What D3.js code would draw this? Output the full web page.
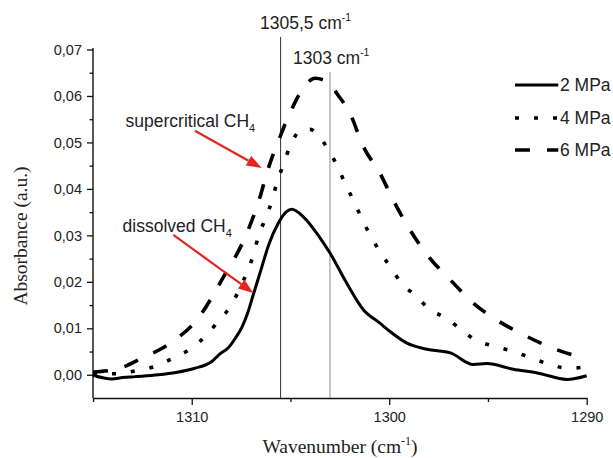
<!DOCTYPE html>
<html>
<head>
<meta charset="utf-8">
<script src="https://cdn.jsdelivr.net/npm/d3@7"></script>
<style>
  body { margin: 0; background: #fff; }
  svg { display: block; }
</style>
</head>
<body>
<svg id="chart" width="613" height="458"></svg>
<script>
// IR absorbance of CH4 around the 1300 cm-1 band at three pressures
const seriesNames = ["2 MPa", "4 MPa", "6 MPa"];

const wn2MPa  = [1315, 1314.05, 1313.5, 1312.87, 1311.7, 1310.8, 1309.84, 1309.0, 1308.57, 1308.15, 1307.8, 1307.45, 1307.15, 1306.9, 1306.5, 1306.1, 1305.62, 1305.2, 1304.94, 1304.35, 1303.54, 1303.0, 1302.15, 1301.31, 1300.47, 1299.96, 1299.1, 1298.1, 1296.9, 1295.74, 1295.06, 1293.72, 1292.5, 1291.0, 1290.0];
const abs2MPa = [-0.0001, -0.0009, -0.0006, -0.0004, 0.0000, 0.0005, 0.0014, 0.0028, 0.0045, 0.0058, 0.0078, 0.0103, 0.0135, 0.0170, 0.0225, 0.0280, 0.0326, 0.0351, 0.0356, 0.0340, 0.0297, 0.0262, 0.0197, 0.0140, 0.0111, 0.0093, 0.0068, 0.0055, 0.0047, 0.0022, 0.0024, 0.0012, 0.0004, -0.0010, -0.0002];

const wn4MPa  = [1315, 1313.7, 1312.8, 1311.86, 1310.93, 1310.09, 1309.24, 1308.66, 1308.06, 1307.64, 1307.22, 1306.88, 1306.63, 1306.3, 1305.95, 1305.7, 1305.36, 1305.03, 1304.43, 1304.0, 1303.59, 1303.09, 1302.66, 1302.24, 1301.82, 1301.4, 1300.97, 1300.47, 1299.96, 1299.37, 1298.6, 1297.94, 1297.1, 1296.25, 1295.57, 1294.65, 1293.72, 1292.79, 1291.86, 1290.9, 1290.0];
const abs4MPa = [0.0004, 0.0002, 0.0009, 0.0018, 0.0036, 0.0055, 0.0086, 0.0115, 0.0146, 0.0179, 0.0219, 0.0258, 0.0297, 0.0333, 0.0373, 0.0412, 0.0452, 0.0491, 0.0527, 0.0528, 0.0516, 0.0484, 0.0452, 0.0412, 0.0376, 0.0337, 0.0301, 0.0265, 0.0233, 0.0197, 0.0168, 0.0140, 0.0122, 0.0093, 0.0074, 0.0061, 0.0050, 0.0036, 0.0022, 0.0014, 0.0017];

const wn6MPa  = [1315, 1313.8, 1312.37, 1311.5, 1310.85, 1309.67, 1308.48, 1307.14, 1306.54, 1306.2, 1305.53, 1305.03, 1304.35, 1303.76, 1303.0, 1302.66, 1301.99, 1301.31, 1300.47, 1299.8, 1298.95, 1298.0, 1296.9, 1295.74, 1294.56, 1293.2, 1291.7, 1290.0];
const abs6MPa = [0.0006, 0.0012, 0.0039, 0.0057, 0.0075, 0.0122, 0.0204, 0.0312, 0.0383, 0.0434, 0.0512, 0.0563, 0.0617, 0.0638, 0.0627, 0.0606, 0.0563, 0.0491, 0.0434, 0.0376, 0.0312, 0.0254, 0.0204, 0.0154, 0.0118, 0.0086, 0.0057, 0.0034];

// Peak positions marked with vertical lines
const peakPositions = [1305.5, 1303];
const peakTexts = ["1305,5 cm", "1303 cm"];

// Axis ticks
const xMajorTicks = [1310, 1300, 1290];
const xMinorTicks = [1315, 1305, 1295];
const yMajorTicks = [0, 0.01, 0.02, 0.03, 0.04, 0.05, 0.06, 0.07];
const yMinorTicks = [0.005, 0.015, 0.025, 0.035, 0.045, 0.055, 0.065];

// Callouts: label text and arrow from/to (wavenumber, absorbance)
const calloutTexts = ["supercritical CH", "dissolved CH"];
const calloutTextAt = [[1313.35, 0.0533], [1313.5, 0.0308]];
const arrowFrom = [[1309.84, 0.0525], [1310.93, 0.0301]];
const arrowTo   = [[1306.46, 0.0445], [1306.88, 0.0176]];

const svg = d3.select("#chart");
const sansFont = "'Liberation Sans', Arial, Helvetica, sans-serif";
const serifFont = "'Liberation Serif', 'Times New Roman', serif";

const x = d3.scaleLinear().domain([1315, 1290]).range([93, 586.7]);
const y = d3.scaleLinear().domain([-0.005, 0.07]).range([398, 49.5]);

const commaFmt = v => d3.format(".2f")(v).replace(".", ",");

// ---- axes ----
const yAxis = svg.append("g").attr("transform", `translate(${x.range()[0]},0)`)
  .call(d3.axisLeft(y).tickValues(yMajorTicks).tickFormat(commaFmt)
        .tickSize(6).tickSizeOuter(0).tickPadding(5));
svg.append("g").attr("transform", `translate(${x.range()[0]},0)`)
  .call(d3.axisLeft(y).tickValues(yMinorTicks).tickFormat("").tickSize(3.5).tickSizeOuter(0))
  .select(".domain").remove();

svg.append("g").attr("transform", `translate(0,${y.range()[0]})`)
  .call(d3.axisBottom(x).tickValues(xMajorTicks).tickFormat(d3.format("d"))
        .tickSize(7).tickSizeOuter(0).tickPadding(7));
svg.append("g").attr("transform", `translate(0,${y.range()[0]})`)
  .call(d3.axisBottom(x).tickValues(xMinorTicks).tickFormat("").tickSize(4).tickSizeOuter(0))
  .select(".domain").remove();

svg.selectAll(".domain").attr("stroke", "#111").attr("stroke-width", 1.4);
svg.selectAll(".tick line").attr("stroke", "#111").attr("stroke-width", 1.3);
svg.selectAll(".tick text").attr("font-family", sansFont).attr("font-size", 14.5).attr("fill", "#222");

// extend y axis line to the top of the scale
yAxis.select(".domain").attr("d", `M0,${y.range()[0]}V${y(0.0703)}`);

// ---- axis titles ----
svg.append("text")
  .attr("transform", `translate(27,236) rotate(-90)`)
  .attr("text-anchor", "middle")
  .attr("font-family", serifFont).attr("font-size", 19.5).attr("fill", "#222")
  .text("Absorbance (a.u.)");

const xTitle = svg.append("text")
  .attr("x", 340).attr("y", 453)
  .attr("text-anchor", "middle")
  .attr("font-family", serifFont).attr("font-size", 19.5).attr("fill", "#222");
xTitle.append("tspan").text("Wavenumber (cm");
xTitle.append("tspan").attr("font-size", 12).attr("dy", -8).text("-1");
xTitle.append("tspan").attr("dy", 8).text(")");

// ---- peak marker lines ----
const peakLineColors = ["#333", "#888"];
const peakLineTops = [37, 72];
svg.selectAll("line.peak").data(peakPositions).join("line")
  .attr("class", "peak")
  .attr("x1", d => x(d)).attr("x2", d => x(d))
  .attr("y1", (d, i) => peakLineTops[i]).attr("y2", y.range()[0])
  .attr("stroke", (d, i) => peakLineColors[i]).attr("stroke-width", 1);

const peakTextPos = [[260, 29], [293, 64]];
peakTexts.forEach((t, i) => {
  const tx = svg.append("text")
    .attr("x", peakTextPos[i][0]).attr("y", peakTextPos[i][1])
    .attr("font-family", sansFont).attr("font-size", 17.5).attr("fill", "#222");
  tx.append("tspan").text(t);
  tx.append("tspan").attr("font-size", 10.5).attr("dy", -8).text("-1");
});

// ---- spectra ----
const seriesData = [
  d3.zip(wn2MPa, abs2MPa),
  d3.zip(wn4MPa, abs4MPa),
  d3.zip(wn6MPa, abs6MPa)
];
const dashes = [null, "4,15", "15,17"];
const widths = [3, 3.6, 3.6];

const line = d3.line()
  .x(d => x(d[0])).y(d => y(d[1]))
  .curve(d3.curveMonotoneX);

svg.selectAll("path.spectrum").data(seriesData).join("path")
  .attr("class", "spectrum")
  .attr("d", line)
  .attr("fill", "none")
  .attr("stroke", "#000")
  .attr("stroke-width", (d, i) => widths[i])
  .attr("stroke-dasharray", (d, i) => dashes[i])
  .attr("stroke-linejoin", "round");

// ---- legend ----
const legendY = [85, 118, 150];
const legend = svg.append("g");
seriesNames.forEach((name, i) => {
  legend.append("line")
    .attr("x1", 515).attr("x2", 558.3)
    .attr("y1", legendY[i]).attr("y2", legendY[i])
    .attr("stroke", "#000").attr("stroke-width", widths[i])
    .attr("stroke-dasharray", dashes[i]);
  legend.append("text")
    .attr("x", 560).attr("y", legendY[i] + 6.3)
    .attr("font-family", sansFont).attr("font-size", 17.5).attr("fill", "#222")
    .text(name);
});

// ---- callouts ----
const red = "#e3241f";
calloutTexts.forEach((t, i) => {
  const tx = svg.append("text")
    .attr("x", x(calloutTextAt[i][0])).attr("y", y(calloutTextAt[i][1]))
    .attr("font-family", sansFont).attr("font-size", 17.5).attr("fill", "#222");
  tx.append("tspan").text(t);
  tx.append("tspan").attr("font-size", 11).attr("dy", 5).text("4");

  const x1 = x(arrowFrom[i][0]), y1 = y(arrowFrom[i][1]);
  const x2 = x(arrowTo[i][0]), y2 = y(arrowTo[i][1]);
  const ang = Math.atan2(y2 - y1, x2 - x1);
  const headLen = 15, headHalf = 5.5;
  const bx = x2 - headLen * Math.cos(ang), by = y2 - headLen * Math.sin(ang);
  svg.append("line")
    .attr("x1", x1).attr("y1", y1).attr("x2", bx).attr("y2", by)
    .attr("stroke", red).attr("stroke-width", 2.2);
  const px = -Math.sin(ang) * headHalf, py = Math.cos(ang) * headHalf;
  svg.append("path")
    .attr("d", `M${x2},${y2}L${bx + px},${by + py}L${bx - px},${by - py}Z`)
    .attr("fill", red);
});
</script>
</body>
</html>
